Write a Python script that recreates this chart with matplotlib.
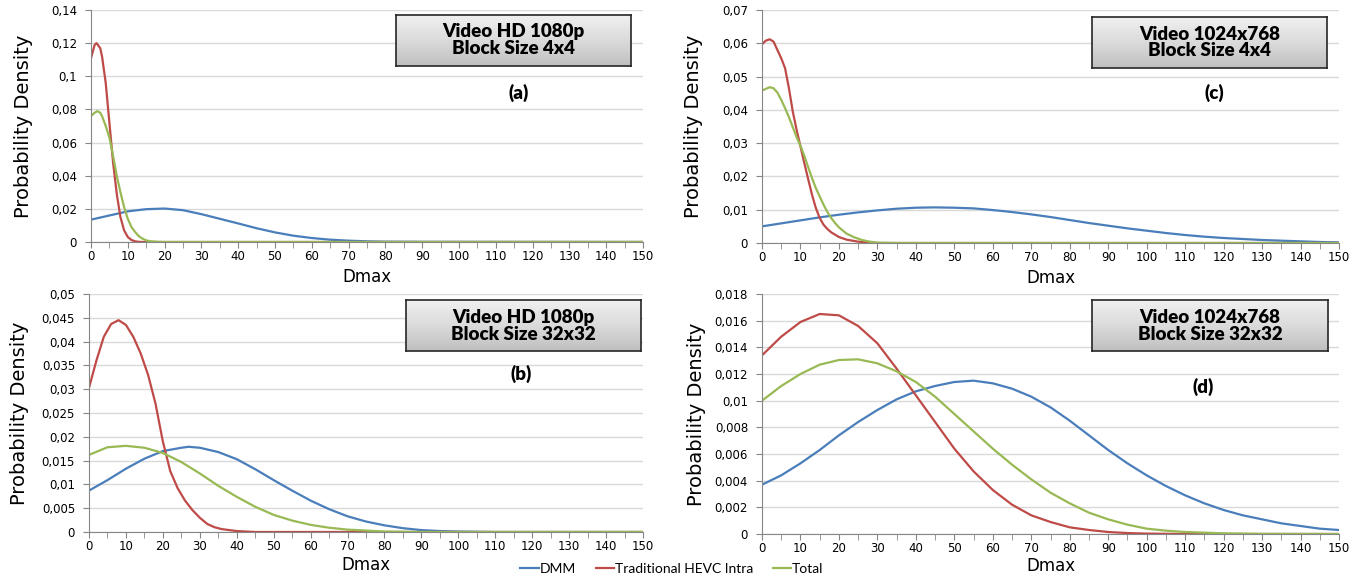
import matplotlib
matplotlib.use("Agg")
import matplotlib.pyplot as plt
import numpy as np
from matplotlib.ticker import MultipleLocator, FuncFormatter

# series colours (Excel style)
BLUE = "#4A7EBB"
RED = "#BE4B48"
GREEN = "#98B954"

series_names = ["DMM", "Traditional HEVC Intra", "Total"]

# ---- (a) Video HD 1080p, block 4x4
a_dmm_x = [0, 5, 10, 15, 20, 25, 30, 35, 40, 45, 50, 55, 60, 65, 70, 75, 80, 90, 150]
a_dmm_y = [0.0135, 0.016, 0.0185, 0.0198, 0.0202, 0.0192, 0.0168, 0.014, 0.0112, 0.0083,
           0.0058, 0.0038, 0.0024, 0.0014, 0.0008, 0.0004, 0.0002, 0.0001, 0]
a_hevc_x = [0, 1, 1.5, 2.5, 3, 4, 5, 6, 7, 8, 9, 10, 11, 12, 13, 14, 150]
a_hevc_y = [0.111, 0.119, 0.120, 0.117, 0.112, 0.096, 0.072, 0.048, 0.029, 0.015, 0.007,
            0.003, 0.0012, 0.0004, 0.0001, 0, 0]
a_total_x = [0, 1, 1.7, 2.5, 3, 4, 5, 6, 7, 8, 9, 10, 11, 12, 13, 14, 15, 16, 18, 20, 150]
a_total_y = [0.076, 0.078, 0.079, 0.078, 0.076, 0.070, 0.063, 0.052, 0.040, 0.030, 0.021,
             0.014, 0.009, 0.006, 0.0035, 0.002, 0.001, 0.0005, 0.0001, 0, 0]

# ---- (b) Video HD 1080p, block 32x32
b_dmm_x = [0, 5, 10, 15, 20, 25, 27, 30, 35, 40, 45, 50, 55, 60, 65, 70, 75, 80, 85, 90, 95,
           100, 110, 150]
b_dmm_y = [0.0087, 0.0109, 0.0133, 0.0154, 0.017, 0.0177, 0.0179, 0.0177, 0.0168, 0.0153,
           0.0132, 0.0109, 0.0087, 0.0066, 0.0048, 0.0033, 0.0022, 0.0014, 0.0008, 0.0004,
           0.0002, 0.0001, 0, 0]
b_hevc_x = [0, 2, 4, 6, 8, 10, 12, 14, 16, 18, 20, 22, 24, 26, 28, 30, 32, 34, 36, 40, 45, 150]
b_hevc_y = [0.0303, 0.036, 0.041, 0.0437, 0.0445, 0.0435, 0.041, 0.0375, 0.033, 0.027, 0.019,
            0.0128, 0.0092, 0.0066, 0.0046, 0.003, 0.0017, 0.001, 0.0006, 0.0002, 0, 0]
b_total_x = [0, 5, 10, 15, 20, 25, 30, 35, 40, 45, 50, 55, 60, 65, 70, 75, 80, 90, 150]
b_total_y = [0.0162, 0.0178, 0.0181, 0.0177, 0.0166, 0.0147, 0.0123, 0.0097, 0.0074, 0.0053,
             0.0036, 0.0024, 0.0015, 0.0009, 0.0005, 0.0003, 0.0001, 0, 0]

# ---- (c) Video 1024x768, block 4x4
c_dmm_x = [0, 5, 10, 15, 20, 25, 30, 35, 40, 45, 50, 55, 60, 65, 70, 75, 80, 85, 90, 95, 100,
           105, 110, 115, 120, 125, 130, 135, 140, 145, 150]
c_dmm_y = [0.005, 0.0059, 0.0068, 0.0077, 0.0085, 0.0092, 0.0098, 0.0103, 0.0106, 0.0107,
           0.0106, 0.0104, 0.0099, 0.0093, 0.0086, 0.0078, 0.0069, 0.006, 0.0052, 0.0044,
           0.0037, 0.003, 0.0024, 0.0019, 0.0015, 0.0012, 0.0009, 0.0007, 0.0005, 0.0003,
           0.0002]
c_hevc_x = [0, 1, 2, 3, 4, 5, 6, 7, 8, 9, 10, 11, 12, 13, 14, 15, 16, 17, 18, 20, 22, 25, 28,
            30, 150]
c_hevc_y = [0.0597, 0.0608, 0.0612, 0.0605, 0.058, 0.0555, 0.0525, 0.0465, 0.0395, 0.034,
            0.029, 0.024, 0.0192, 0.0145, 0.0105, 0.0075, 0.0055, 0.0042, 0.0032, 0.0018,
            0.001, 0.0004, 0.0001, 0, 0]
c_total_x = [0, 1, 2, 3, 4, 5, 6, 7, 8, 9, 10, 11, 12, 13, 14, 15, 16, 17, 18, 19, 20, 22, 24,
             26, 28, 30, 35, 150]
c_total_y = [0.0458, 0.0463, 0.0468, 0.0465, 0.0452, 0.043, 0.0405, 0.0378, 0.0348, 0.0318,
             0.0292, 0.0262, 0.0228, 0.0195, 0.0165, 0.014, 0.0115, 0.0093, 0.0075, 0.006,
             0.0047, 0.0028, 0.0017, 0.0009, 0.0004, 0.0001, 0, 0]

# ---- (d) Video 1024x768, block 32x32
d_dmm_x = [0, 5, 10, 15, 20, 25, 30, 35, 40, 45, 50, 55, 60, 65, 70, 75, 80, 85, 90, 95, 100,
           105, 110, 115, 120, 125, 130, 135, 140, 145, 150]
d_dmm_y = [0.0037, 0.0044, 0.0053, 0.0063, 0.0074, 0.0084, 0.0093, 0.0101, 0.0107, 0.0111,
           0.0114, 0.0115, 0.0113, 0.0109, 0.0103, 0.0095, 0.0085, 0.0074, 0.0063, 0.0053,
           0.0044, 0.0036, 0.0029, 0.0023, 0.0018, 0.0014, 0.0011, 0.0008, 0.0006, 0.0004,
           0.0003]
d_hevc_x = [0, 5, 10, 15, 20, 25, 30, 35, 40, 45, 50, 55, 60, 65, 70, 75, 80, 85, 90, 95, 100,
            110, 150]
d_hevc_y = [0.0134, 0.0148, 0.0159, 0.0165, 0.0164, 0.0156, 0.0143, 0.0124, 0.0104, 0.0084,
            0.0064, 0.0047, 0.0033, 0.0022, 0.0014, 0.0009, 0.0005, 0.0003, 0.00015, 0.00007,
            0.00003, 0, 0]
d_total_x = [0, 5, 10, 15, 20, 25, 30, 35, 40, 45, 50, 55, 60, 65, 70, 75, 80, 85, 90, 95, 100,
             105, 110, 115, 120, 130, 150]
d_total_y = [0.0100, 0.0111, 0.0120, 0.0127, 0.01305, 0.0131, 0.0128, 0.0122, 0.0114, 0.0103,
             0.0090, 0.0077, 0.0064, 0.0052, 0.0041, 0.0031, 0.0023, 0.0016, 0.0011, 0.0007,
             0.0004, 0.00025, 0.00015, 0.0001, 0.00005, 0.00001, 0]

box_titles = ["Video HD 1080p\nBlock Size 4x4", "Video HD 1080p\nBlock Size 32x32",
              "Video 1024x768\nBlock Size 4x4", "Video 1024x768\nBlock Size 32x32"]
panel_tags = ["(a)", "(b)", "(c)", "(d)"]
y_tops = [0.14, 0.05, 0.07, 0.018]
y_steps = [0.02, 0.005, 0.01, 0.002]

panels = [
    [(a_dmm_x, a_dmm_y), (a_hevc_x, a_hevc_y), (a_total_x, a_total_y)],
    [(b_dmm_x, b_dmm_y), (b_hevc_x, b_hevc_y), (b_total_x, b_total_y)],
    [(c_dmm_x, c_dmm_y), (c_hevc_x, c_hevc_y), (c_total_x, c_total_y)],
    [(d_dmm_x, d_dmm_y), (d_hevc_x, d_hevc_y), (d_total_x, d_total_y)],
]

W, H = 1364, 579
fig = plt.figure(figsize=(W / 100, H / 100), dpi=100)


def px_rect(x0, y0, x1, y1):
    # pixel box (top-left origin) -> figure fraction rect
    return [x0 / W, 1 - y1 / H, (x1 - x0) / W, (y1 - y0) / H]


ax_rects = [px_rect(91, 10, 643, 242), px_rect(89, 294, 643, 532),
            px_rect(762, 10, 1339, 243), px_rect(762, 294, 1339, 534)]
box_rects = [px_rect(396, 15, 631, 66), px_rect(406, 300, 641, 351),
             px_rect(1092, 17, 1327, 68), px_rect(1092, 300, 1328, 351)]
tag_pos = [(519, 93), (521, 374), (1214, 93), (1203, 387)]
ylab_x = [-0.123, -0.126, -0.118, -0.114]
xlab_y = [-0.15, -0.14, -0.15, -0.135]

comma = FuncFormatter(lambda v, p: ("%g" % round(v, 4)).replace(".", ","))
gradient = np.linspace(0, 1, 64).reshape(-1, 1)
handles = []

for i in range(4):
    ax = fig.add_axes(ax_rects[i])
    for (xs, ys), col in zip(panels[i], [BLUE, RED, GREEN]):
        ln, = ax.plot(xs, ys, color=col, lw=1.6, solid_joinstyle="round")
        if i == 0:
            handles.append(ln)
    ax.set_xlim(0, 150)
    ax.set_ylim(0, y_tops[i])
    ax.xaxis.set_major_locator(MultipleLocator(10))
    ax.xaxis.set_minor_locator(MultipleLocator(5))
    ax.yaxis.set_major_locator(MultipleLocator(y_steps[i]))
    ax.yaxis.set_major_formatter(comma)
    ax.grid(axis="y", color="#D9D9D9", lw=1)
    ax.set_axisbelow(True)
    for s in ["top", "right"]:
        ax.spines[s].set_visible(False)
    for s in ["left", "bottom"]:
        ax.spines[s].set_color("#868686")
    ax.tick_params(which="both", direction="out", length=4, color="#868686",
                   labelsize=8.5, labelcolor="#000000")
    ax.tick_params(axis="x", pad=2)
    ax.tick_params(axis="y", pad=6)
    ax.set_xlabel("Dmax", fontsize=12)
    ax.xaxis.set_label_coords(0.5, xlab_y[i])
    ax.xaxis.label.set_va("center")
    ax.set_ylabel("Probability Density", fontsize=14)
    ax.yaxis.set_label_coords(ylab_x[i], 0.5)
    ax.yaxis.label.set_va("center")

    # grey gradient title box
    bx = fig.add_axes(box_rects[i])
    bx.imshow(gradient, aspect="auto", cmap="Greys", vmin=-0.5, vmax=3.6,
              extent=[0, 1, 0, 1], origin="upper")
    bx.set_xticks([])
    bx.set_yticks([])
    for s in bx.spines.values():
        s.set_color("#262626")
        s.set_linewidth(1.2)
    bx.text(0.5, 0.5, box_titles[i], ha="center", va="center", fontsize=13.5,
            fontweight="heavy", family="Lato", linespacing=1.0, transform=bx.transAxes)

    fig.text(tag_pos[i][0] / W, 1 - tag_pos[i][1] / H, panel_tags[i], ha="center",
             va="center", fontsize=13.5, fontweight="heavy", family="Lato")

fig.legend(handles, series_names, loc="center", bbox_to_anchor=(672 / W, 1 - 569 / H),
           ncol=3, frameon=False, handlelength=1.3, handletextpad=0.1,
           columnspacing=1.4, prop={"family": "Lato", "size": 10})

fig.savefig("out.png", dpi=100)
